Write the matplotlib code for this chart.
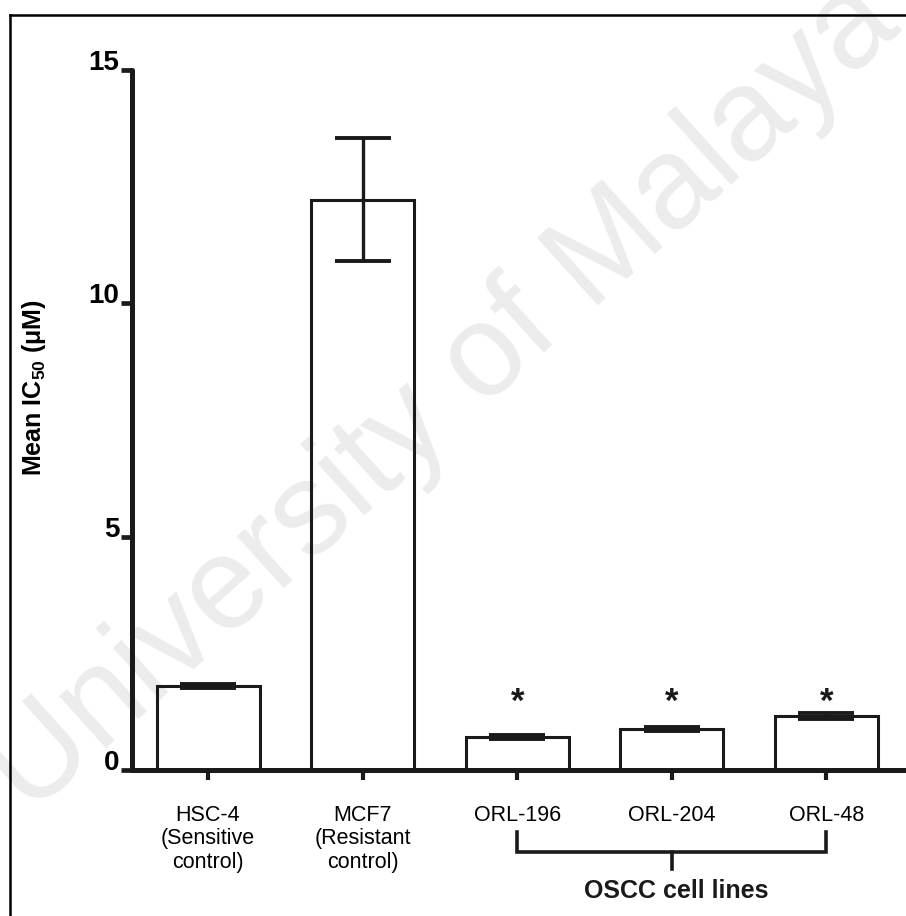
import matplotlib
matplotlib.use("Agg")
import matplotlib.pyplot as plt
from matplotlib.lines import Line2D
import numpy as np

plt.rcParams['font.family'] = ['Liberation Sans', 'DejaVu Sans']
plt.rcParams['mathtext.fontset'] = 'custom'
plt.rcParams['mathtext.rm'] = 'Liberation Sans'
plt.rcParams['mathtext.bf'] = 'Liberation Sans:bold'

# Data
cell_lines = ['HSC-4\n(Sensitive\ncontrol)', 'MCF7\n(Resistant\ncontrol)',
              'ORL-196', 'ORL-204', 'ORL-48']
mean_ic50 = [1.80, 12.22, 0.71, 0.88, 1.16]
sem = [0.05, 1.32, 0.04, 0.05, 0.07]
significant = [False, False, True, True, True]
oscc_group = [2, 3, 4]

fig = plt.figure(figsize=(9.06, 9.16), dpi=100)

# faint watermark behind the chart
fig.text(0.49, 0.565, 'University of Malaya', fontsize=94, color='#ececec',
         rotation=42, ha='center', va='center', zorder=-5)

ax = fig.add_axes([132 / 906, 1 - 770 / 916, 1 - 132 / 906, 700 / 916])
ax.patch.set_alpha(0)

x = np.arange(len(cell_lines))
ax.bar(x, mean_ic50, width=0.667, facecolor='none', edgecolor='#1a1a1a',
       linewidth=2.2, zorder=2)
ax.errorbar(x, mean_ic50, yerr=sem, fmt='none', ecolor='#1a1a1a',
            elinewidth=2.4, capsize=20, capthick=2.8, zorder=3)

for xi, yi, s in zip(x, mean_ic50, significant):
    if s:
        ax.text(xi, 1.25, '*', ha='center', va='baseline', fontsize=25,
                fontweight='bold', color='#1a1a1a')

ax.set_xlim(-0.492, 4.515)
ax.set_ylim(0, 15)

for side in ['top', 'right']:
    ax.spines[side].set_visible(False)
for side in ['left', 'bottom']:
    ax.spines[side].set_linewidth(3.6)
    ax.spines[side].set_color('#1a1a1a')
    ax.spines[side].set_capstyle('round')

ax.set_yticks([0, 5, 10, 15])
ax.set_yticklabels(['0', '5', '10', '15'], fontsize=20, fontweight='bold')
for lbl in ax.get_yticklabels():
    lbl.set_va('baseline')
ax.tick_params(axis='y', direction='out', length=8, width=3.4, pad=1,
               color='#1a1a1a')

ax.set_xticks(x)
ax.set_xticklabels(cell_lines, fontsize=15.5, linespacing=1.15)
ax.tick_params(axis='x', direction='out', length=7, width=3.0, pad=18,
               color='#1a1a1a')

# bracket grouping the OSCC cell lines
bx0, bx1 = oscc_group[0], oscc_group[-1]
bmid = oscc_group[len(oscc_group) // 2]
ax.plot([bx0, bx0, bx1, bx1], [-1.33, -1.76, -1.76, -1.33], color='#1a1a1a',
        linewidth=2.6, clip_on=False, solid_joinstyle='miter')
ax.plot([bmid, bmid], [-1.76, -2.12], color='#1a1a1a', linewidth=2.6,
        clip_on=False)
ax.text(bmid + 0.03, -2.74, 'OSCC cell lines', ha='center', va='baseline',
        fontsize=18, fontweight='bold', color='#1a1a1a')

fig.text(34 / 906, 1 - 388 / 916, r'Mean IC$_{\mathbf{50}}$ (μM)', rotation=90,
         ha='center', va='center', fontsize=18, fontweight='bold')

# frame lines on the left and top of the page
fig.add_artist(Line2D([10 / 906, 10 / 906], [0, 1 - 15 / 916], color='black',
                      linewidth=1.8, transform=fig.transFigure))
fig.add_artist(Line2D([10 / 906, 1], [1 - 15 / 916, 1 - 15 / 916], color='black',
                      linewidth=1.8, transform=fig.transFigure))

fig.savefig('out.png', dpi=100)
